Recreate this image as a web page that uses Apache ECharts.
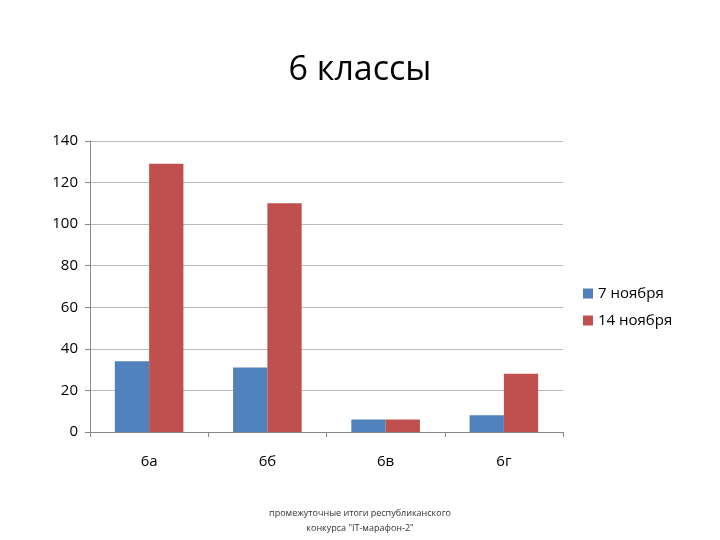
<!DOCTYPE html>
<html><head><meta charset="utf-8">
<script src="https://cdn.jsdelivr.net/npm/echarts@6/dist/echarts.min.js"></script>
<style>html,body{margin:0;background:#fff}#c{width:720px;height:540px}</style>
</head><body><div id="c"></div>
<script>
const categories = ['6а','6б','6в','6г'];
const nov7 = [34, 31, 6, 8];
const nov14 = [129, 110, 6, 28];
const seriesNames = ['7 ноября','14 ноября'];
const chart = echarts.init(document.getElementById('c'));
chart.setOption({
  animation:false,
  textStyle:{fontFamily:'Open Sans'},
  title:[{text:'6 классы',left:'center',top:48,textStyle:{fontSize:34,fontWeight:'normal',color:'#000',fontFamily:'Open Sans'}},
         {text:'промежуточные итоги республиканского\nконкурса "IT-марафон-2"',left:'center',top:501,textStyle:{fontSize:9,fontWeight:'normal',color:'#333',lineHeight:15}}],
  legend:{orient:'vertical',left:578,top:281,itemWidth:10,itemHeight:10,itemGap:12,icon:'rect',textStyle:{fontSize:15,color:'#000'},data:seriesNames},
  grid:{left:90,right:157,top:141,bottom:108},
  xAxis:{type:'category',data:categories,axisLine:{lineStyle:{color:'#888'}},axisTick:{show:true,length:5,lineStyle:{color:'#888'}},axisLabel:{fontSize:15,color:'#000',margin:22}},
  yAxis:{type:'value',min:0,max:140,interval:20,axisLine:{show:true,lineStyle:{color:'#888'}},axisTick:{show:true,length:5,lineStyle:{color:'#888'}},splitLine:{lineStyle:{color:'#bbb'}},axisLabel:{fontSize:15,color:'#000',margin:12}},
  series:[
    {name:seriesNames[0],type:'bar',data:nov7,barGap:'0%',barCategoryGap:'42%',itemStyle:{color:'#4f81bd'}},
    {name:seriesNames[1],type:'bar',data:nov14,itemStyle:{color:'#c0504d'}}
  ]
});
</script></body></html>
